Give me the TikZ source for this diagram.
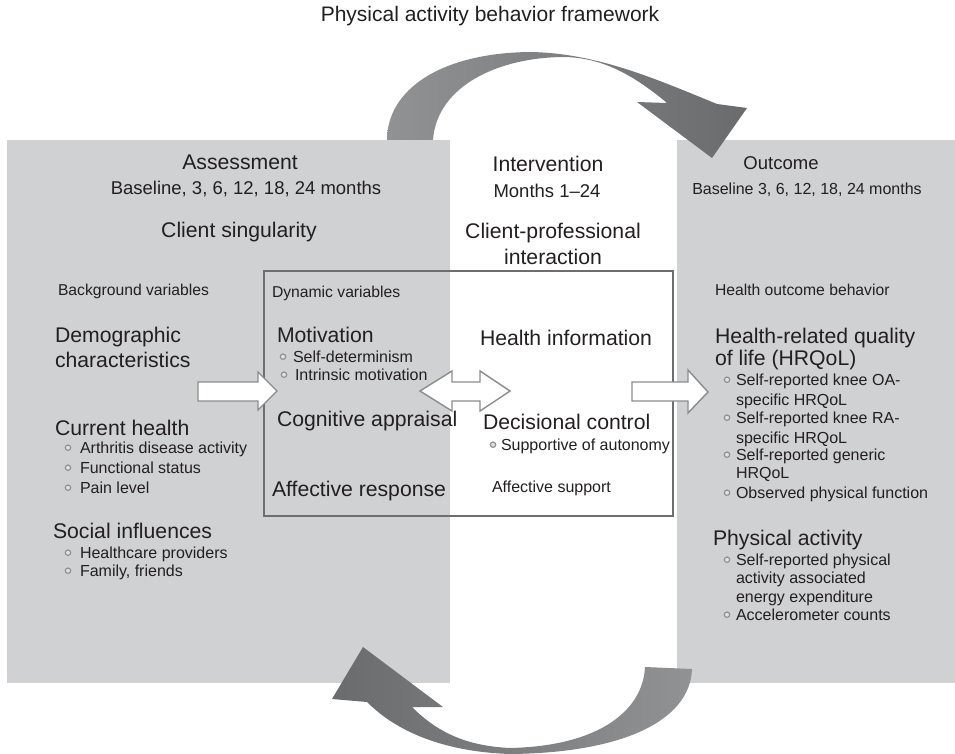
\documentclass[tikz,border=0pt]{standalone}
\usepackage{fontspec}
\setmainfont{Liberation Sans}
\definecolor{panelgray}{RGB}{208,209,211}
\definecolor{txt}{RGB}{35,31,32}
\definecolor{boxline}{RGB}{110,110,110}
\definecolor{blockline}{RGB}{140,140,140}
\definecolor{arrowlight}{RGB}{145,146,148}
\definecolor{arrowdark}{RGB}{106,107,109}
\definecolor{bulfill}{RGB}{225,225,225}
\definecolor{bulline}{RGB}{145,145,145}
\begin{document}
\begin{tikzpicture}[x=1pt,y=-1pt,
  every node/.style={inner sep=0pt, outer sep=0pt, text=txt},
  ttl/.style={font=\fontsize{21}{23}\selectfont, anchor=base},
  hd/.style={font=\fontsize{21.2}{23}\selectfont, anchor=base},
  hdsmall/.style={font=\fontsize{18.5}{21}\selectfont, anchor=base},
  sub/.style={font=\fontsize{18.5}{20}\selectfont, anchor=base},
  subsmall/.style={font=\fontsize{16}{18}\selectfont, anchor=base},
  big/.style={font=\fontsize{21.2}{23}\selectfont, anchor=base west},
  sm/.style={font=\fontsize{15.7}{17}\selectfont, anchor=base west},
  item/.style={font=\fontsize{16}{18}\selectfont, anchor=base west},
  bul/.style={draw=bulline, fill=bulfill, line width=1.2pt},
  block/.style={draw=blockline, fill=white, line width=1.4pt, line join=miter},
]
\newcommand\bitem[5]{%
  \draw[bul] (#2,#4-5.3) circle (2.7);
  \node[item] (#1) at (#3,#4) {#5};}
\useasboundingbox (0,0) rectangle (955,754);

% title
\node[ttl] (title) at (490,22) {Physical activity behavior framework};

% grey phase panels
\fill[panelgray] (7,140) rectangle (450,683);
\fill[panelgray] (677,140) rectangle (955,683);

% curved cycle arrow, top: assessment -> outcome
\shade[left color=arrowlight, right color=arrowdark]
  (387,140) .. controls (387,90) and (440,53) .. (530,52)
  .. controls (598,53) and (658,80) .. (717,104)
  -- (747,108) -- (712,158) -- (637,102) -- (667,103)
  .. controls (630,72) and (600,58) .. (565,57)
  .. controls (500,57) and (437,85) .. (433,140) -- cycle;

% curved cycle arrow, bottom: outcome -> assessment
\shade[left color=arrowdark, right color=arrowlight]
  (692,669) .. controls (690,722) and (620,753) .. (510,754)
  .. controls (450,752) and (400,735) .. (367,702)
  -- (332,699) -- (363,647) -- (443,707) -- (412,707)
  .. controls (440,735) and (470,746) .. (510,748)
  .. controls (600,746) and (643,710) .. (645,667) -- cycle;

% dynamic variables frame
\draw[boxline, line width=1.3pt] (264,271) rectangle (673,516);

% block arrows
\draw[block] (198,382) -- (258,382) -- (258,372) -- (277,391) -- (258,410)
  -- (258,401) -- (198,401) -- cycle;
\draw[block] (420,391) -- (452,371) -- (452,382) -- (480,382) -- (480,371)
  -- (510,391) -- (480,411) -- (480,401) -- (452,401) -- (452,411) -- cycle;
\draw[block] (632,382) -- (688,382) -- (688,370) -- (708,392) -- (688,413)
  -- (688,401) -- (632,401) -- cycle;

% assessment column
\node[hd] (assess) at (240,170) {Assessment};
\node[sub] (assesstime) at (246,195) {Baseline, 3, 6, 12, 18, 24 months};
\node[hd] (single) at (239,237) {Client singularity};
\node[sm] (bgvar) at (58,295) {Background variables};
\node[big] (demo1) at (55,342) {Demographic};
\node[big] (demo2) at (55,367) {characteristics};
\node[big] (curhealth) at (55,435) {Current health};
\bitem{arth}{68}{80}{453}{Arthritis disease activity}
\bitem{func}{68}{80}{473}{Functional status}
\bitem{pain}{68}{80}{493}{Pain level}
\node[big] (social) at (53,538) {Social influences};
\bitem{hcp}{68}{80}{558}{Healthcare providers}
\bitem{family}{68}{80}{576}{Family, friends}

% intervention column
\node[hd] (interv) at (548,172) {Intervention};
\node[sub] (intervtime) at (547,197) {Months 1--24};
\node[hd] (cpi1) at (553,238) {Client-professional};
\node[hd] (cpi2) at (553,264) {interaction};

% dynamic variables
\node[sm] (dynvar) at (272,297) {Dynamic variables};
\node[big] (motiv) at (277,342) {Motivation};
\bitem{selfdet}{283}{293}{362}{Self-determinism}
\bitem{intrins}{284}{295}{380}{Intrinsic motivation}
\node[big] (cogn) at (277,426) {Cognitive appraisal};
\node[big] (affresp) at (272,496) {Affective response};
\node[big] (healthinfo) at (480,345) {Health information};
\node[big] (decis) at (483,429) {Decisional control};
\bitem{auton}{493}{501}{450}{Supportive of autonomy}
\node[item] (affsup) at (492,492) {Affective support};

% outcome column
\node[hdsmall] (outcome) at (781,170) {Outcome};
\node[subsmall] (outtime) at (807,195) {Baseline 3, 6, 12, 18, 24 months};
\node[sm] (hob) at (715,295) {Health outcome behavior};
\node[big] (hrq1) at (715,343) {Health-related quality};
\node[big] (hrq2) at (715,365) {of life (HRQoL)};
\bitem{oa}{727}{736}{385}{Self-reported knee OA-}
\node[item] (oa2) at (736,405) {specific HRQoL};
\bitem{ra}{727}{736}{423}{Self-reported knee RA-}
\node[item] (ra2) at (736,443) {specific HRQoL};
\bitem{gen}{727}{736}{460}{Self-reported generic}
\node[item] (gen2) at (736,478) {HRQoL};
\bitem{obs}{727}{736}{498}{Observed physical function}
\node[big] (physact) at (713,545) {Physical activity};
\bitem{srpa}{727}{736}{565}{Self-reported physical}
\node[item] (srpa2) at (736,583) {activity associated};
\node[item] (srpa3) at (736,602) {energy expenditure};
\bitem{accel}{727}{736}{620}{Accelerometer counts}
\end{tikzpicture}
\end{document}
